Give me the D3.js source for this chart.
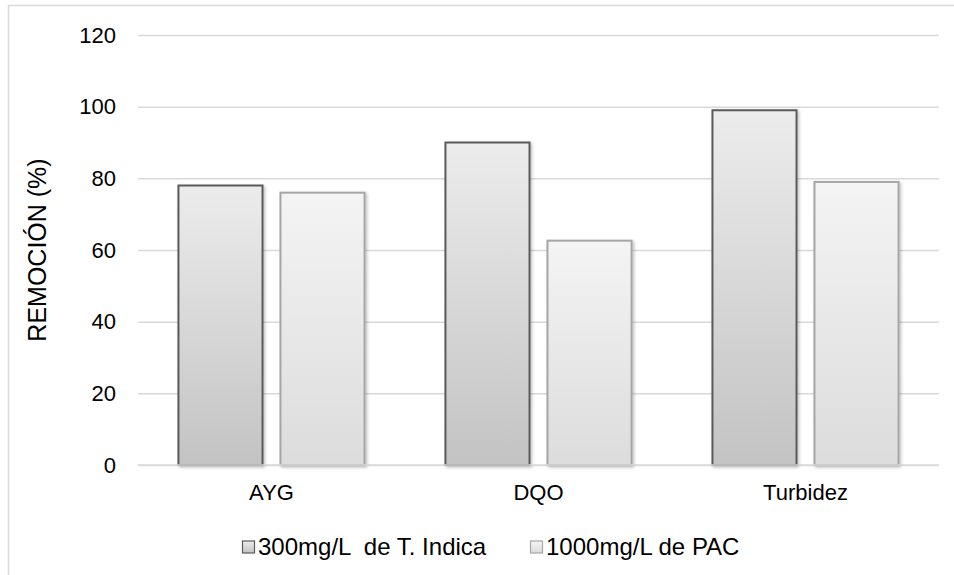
<!DOCTYPE html>
<html>
<head>
<meta charset="utf-8">
<script src="https://cdn.jsdelivr.net/npm/d3@7"></script>
<style>
  html, body { margin: 0; padding: 0; background: #fff; }
  svg { display: block; font-family: "Liberation Sans", Arial, sans-serif; }
</style>
</head>
<body>
<svg id="chart" width="954" height="575"></svg>
<script>
// Removal percentages per parameter, for each coagulant dose
const categories = ["AYG", "DQO", "Turbidez"];
const seriesNames = ["300mg/L  de T. Indica", "1000mg/L de PAC"];
const indicaValues = [78, 90, 99];
const pacValues = [76, 62.6, 79];
const yTicks = [0, 20, 40, 60, 80, 100, 120];
const yTitle = "REMOCIÓN (%)";

const svg = d3.select("#chart");
const margin = { left: 138, right: 15, top: 35, bottom: 110 };
const W = 954, H = 575;
const plotW = W - margin.left - margin.right;
const plotH = H - margin.top - margin.bottom;

const defs = svg.append("defs");
const grads = [
  { id: "g0", top: "#ececec", bottom: "#c3c3c3" },
  { id: "g1", top: "#f4f4f4", bottom: "#dcdcdc" }
];
grads.forEach(g => {
  const lg = defs.append("linearGradient").attr("id", g.id)
    .attr("x1", 0).attr("y1", 0).attr("x2", 0).attr("y2", 1);
  lg.append("stop").attr("offset", "0%").attr("stop-color", g.top);
  lg.append("stop").attr("offset", "100%").attr("stop-color", g.bottom);
});
const f = defs.append("filter").attr("id", "shadow")
  .attr("x", "-10%").attr("y", "-10%").attr("width", "130%").attr("height", "130%");
f.append("feDropShadow").attr("dx", 1.5).attr("dy", 1.5)
  .attr("stdDeviation", 1.5).attr("flood-color", "#000").attr("flood-opacity", 0.25);

// chart area border (top and left edges)
svg.append("line").attr("x1", 8).attr("x2", W).attr("y1", 5.5).attr("y2", 5.5)
  .attr("stroke", "#d9d9d9").attr("stroke-width", 1.5);
svg.append("line").attr("x1", 8.5).attr("x2", 8.5).attr("y1", 5).attr("y2", H)
  .attr("stroke", "#d9d9d9").attr("stroke-width", 1.5);

const g = svg.append("g").attr("transform", `translate(${margin.left},${margin.top})`);

const y = d3.scaleLinear().domain([0, 120]).range([plotH, 0]);
const x0 = d3.scaleBand().domain(categories).range([0, plotW]).paddingInner(0).paddingOuter(0);
const innerPad = 0.303;
const x1 = d3.scaleBand().domain([0, 1])
  .range([x0.bandwidth() * innerPad / 2, x0.bandwidth() * (1 - innerPad / 2)])
  .paddingInner(0.176);

// gridlines
const yAxis = d3.axisLeft(y).tickValues(yTicks).tickSize(-plotW).tickPadding(22).tickFormat(d3.format("d"));
const ya = g.append("g").call(yAxis);
ya.select(".domain").remove();
ya.selectAll(".tick line").attr("stroke", "#d9d9d9").attr("stroke-width", 1.5);
ya.selectAll(".tick text").attr("fill", "#000").attr("font-size", 22)
  .attr("font-family", "Liberation Sans, Arial, sans-serif");

// bars
const data = categories.map((c, i) => ({ c, v: [indicaValues[i], pacValues[i]] }));
const strokes = ["#5a5a5a", "#a6a6a6"];
const groups = g.selectAll(".cat").data(data).enter().append("g")
  .attr("transform", d => `translate(${x0(d.c)},0)`);
groups.selectAll("rect").data(d => d.v.map((v, k) => ({ v, k }))).enter().append("rect")
  .attr("x", d => x1(d.k))
  .attr("width", x1.bandwidth())
  .attr("y", d => y(d.v))
  .attr("height", d => y(0) - y(d.v))
  .attr("fill", d => `url(#g${d.k})`)
  .attr("stroke", d => strokes[d.k])
  .attr("stroke-width", 2)
  .attr("filter", "url(#shadow)");

// x axis baseline and labels
g.append("line").attr("x1", 0).attr("x2", plotW).attr("y1", y(0)).attr("y2", y(0))
  .attr("stroke", "#d9d9d9").attr("stroke-width", 1.5);
const xAxis = d3.axisBottom(x0).tickSize(0).tickPadding(19);
const xa = g.append("g").attr("transform", `translate(0,${plotH})`).call(xAxis);
xa.select(".domain").remove();
xa.selectAll(".tick text").attr("fill", "#000").attr("font-size", 22)
  .attr("font-family", "Liberation Sans, Arial, sans-serif");

// y title
svg.append("text")
  .attr("transform", `translate(46,${margin.top + plotH / 2}) rotate(-90)`)
  .attr("text-anchor", "middle")
  .attr("font-size", 25).attr("fill", "#000")
  .text(yTitle);

// legend
const legendX = [242, 530];
const legend = svg.append("g").attr("transform", "translate(0,547)");
seriesNames.forEach((name, k) => {
  const lg = legend.append("g").attr("transform", `translate(${legendX[k]},0)`);
  lg.append("rect").attr("x", 0.5).attr("y", -6).attr("width", 12).attr("height", 12)
    .attr("fill", `url(#g${k})`).attr("stroke", strokes[k]).attr("stroke-width", 1.2);
  lg.append("text").attr("x", 16).attr("y", 0).attr("dy", "0.35em")
    .attr("font-size", 24).attr("fill", "#000")
    .attr("xml:space", "preserve").style("white-space", "pre")
    .text(name);
});
</script>
</body>
</html>
